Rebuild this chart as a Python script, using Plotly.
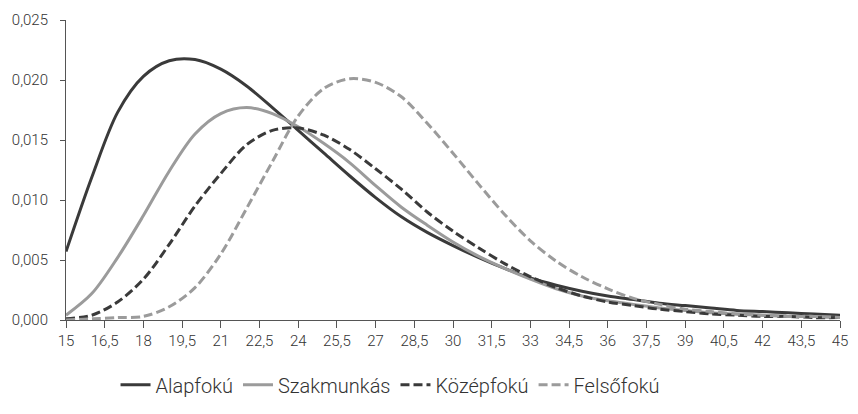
import plotly.graph_objects as go

ages = list(range(15, 46))

alapfoku = [0.0057, 0.0119, 0.0173, 0.0203, 0.0216, 0.0217, 0.0209, 0.0195, 0.0177, 0.0158,
            0.0139, 0.0120, 0.0102, 0.0086, 0.0073, 0.0062, 0.0052, 0.0043, 0.0035, 0.0029,
            0.0024, 0.0020, 0.0017, 0.0014, 0.0012, 0.0010, 0.0008, 0.0007, 0.0006, 0.0005, 0.0004]

szakmunkas = [0.0004, 0.0022, 0.0052, 0.0087, 0.0124, 0.0155, 0.0172, 0.0177, 0.0172, 0.0161,
              0.0147, 0.0131, 0.0112, 0.0094, 0.0079, 0.0065, 0.0053, 0.0043, 0.0034, 0.0026,
              0.0020, 0.0016, 0.0013, 0.0010, 0.0008, 0.0006, 0.0005, 0.0004, 0.0003, 0.0003, 0.0002]

kozepfoku = [0.0001, 0.0004, 0.0015, 0.0034, 0.0063, 0.0095, 0.0122, 0.0146, 0.0158, 0.0160,
             0.0154, 0.0142, 0.0126, 0.0109, 0.0090, 0.0074, 0.0060, 0.0047, 0.0036, 0.0027,
             0.0020, 0.0015, 0.0012, 0.0009, 0.0007, 0.0005, 0.0004, 0.0003, 0.0003, 0.0002, 0.0002]

felsofoku = [0.0000, 0.0001, 0.0002, 0.0003, 0.0011, 0.0027, 0.0055, 0.0093, 0.0132, 0.0170,
             0.0193, 0.0201, 0.0198, 0.0186, 0.0164, 0.0139, 0.0113, 0.0088, 0.0066, 0.0049,
             0.0036, 0.0026, 0.0018, 0.0013, 0.0009, 0.0007, 0.0005, 0.0004, 0.0003, 0.0003, 0.0002]

series_names = ["Alapfokú", "Szakmunkás", "Középfokú", "Felsőfokú"]
series_values = [alapfoku, szakmunkas, kozepfoku, felsofoku]

x_tick_vals = [15 + 1.5 * i for i in range(21)]
x_tick_text = [("%g" % v).replace(".", ",") for v in x_tick_vals]
y_tick_vals = [0, 0.005, 0.010, 0.015, 0.020, 0.025]
y_tick_text = ["0,000", "0,005", "0,010", "0,015", "0,020", "0,025"]

DARK = "#3a3a3a"
LIGHT = "#9b9b9b"
styles = [
    dict(color=DARK, dash="solid"),
    dict(color=LIGHT, dash="solid"),
    dict(color=DARK, dash="9px,4px"),
    dict(color=LIGHT, dash="9px,4px"),
]

FONT = "Roboto"
TXT = "#333333"

fig = go.Figure()
for name, vals, st in zip(series_names, series_values, styles):
    fig.add_trace(go.Scatter(
        x=ages, y=vals, name=name, mode="lines",
        line=dict(color=st["color"], dash=st["dash"], width=3, shape="spline", smoothing=0.9),
    ))

fig.update_layout(
    width=842, height=398,
    margin=dict(l=58, r=10, t=12, b=86, autoexpand=False),
    paper_bgcolor="white", plot_bgcolor="white",
    font=dict(family=FONT, color=TXT, size=15, weight=300),
    showlegend=True,
    legend=dict(orientation="h", x=0.064, xanchor="left", y=-0.151, yanchor="top",
                font=dict(family=FONT, size=20, color=TXT, weight=300),
                itemwidth=30, tracegroupgap=0),
    xaxis=dict(
        range=[15, 45], tickmode="array", tickvals=x_tick_vals, ticktext=x_tick_text,
        showgrid=False, zeroline=False, showline=True, linecolor="#555555", linewidth=1,
        ticks="outside", ticklen=7, tickcolor="#555555", tickwidth=1, automargin=False,
        ticklabelstandoff=0, ticklabeloverflow="allow",
        tickfont=dict(family=FONT, size=15, color=TXT, weight=300),
    ),
    yaxis=dict(
        range=[0, 0.025], tickmode="array", tickvals=y_tick_vals, ticktext=y_tick_text,
        showgrid=False, zeroline=False, showline=True, linecolor="#555555", linewidth=1,
        ticks="outside", ticklen=5, tickcolor="#555555", tickwidth=1, automargin=False,
        ticklabelstandoff=9,
        tickfont=dict(family=FONT, size=15, color=TXT, weight=300),
    ),
)

fig.write_html("out.html")
